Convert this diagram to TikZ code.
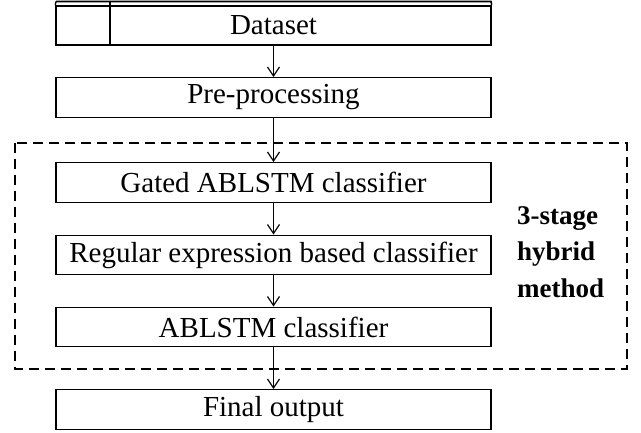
\documentclass[tikz,border=0pt]{standalone}
\usepackage{fontspec}
\setmainfont{Liberation Serif}
\usetikzlibrary{arrows.meta}
\tikzset{
  procbox/.style={draw=black, line width=1.4pt, minimum width=435pt, minimum height=39.5pt, inner sep=0pt, font=\fontsize{29}{34}\selectfont},
  flowarrow/.style={draw=black, line width=1.2pt, -{Straight Barb[length=9pt,width=12pt,line width=1.2pt]}},
  groupbox/.style={draw=black, line width=1.4pt, dash pattern=on 10pt off 6pt}
}
\begin{document}
\begin{tikzpicture}[x=1pt,y=-1pt]
\useasboundingbox (0,0) rectangle (641,432);
% dashed group
\draw[groupbox] (15,143) rectangle (627,369);
% dataset box with header rows
\node[procbox] (ds) at (273.5,25.25) {\raisebox{-2pt}{Dataset}};
\coordinate (dstl) at (56,1.5);
\coordinate (dstr) at (491,1.5);
\coordinate (dsml) at (56,5.8);
\coordinate (dsmr) at (491,5.8);
\coordinate (dsvt) at (110,1.5);
\coordinate (dsvb) at (110,45);
\draw[line width=1.6pt] (dstl) -- (dstr) -- (ds.north east);
\draw[line width=1.4pt] (dstl) -- (ds.north west);
\draw[line width=1.4pt] (dsml) -- (dsmr);
\draw[line width=1.4pt] (dsvt) -- (dsvb);
\node[procbox] (pre) at (273.5,97.5) {Pre-processing};
\node[procbox] (gated) at (273.5,182.5) {Gated ABLSTM classifier};
\node[procbox] (reg) at (273.5,255) {Regular expression based classifier};
\node[procbox] (abl) at (273.5,327) {ABLSTM classifier};
\node[procbox] (fin) at (273.5,409.5) {Final output};
\node[anchor=north west, align=left, inner sep=0pt, font=\fontsize{27}{36.5}\selectfont\bfseries] (lbl) at (517,206) {3-stage\\hybrid\\method};
\draw[flowarrow] (ds) -- (pre);
\draw[flowarrow] (pre) -- (gated);
\draw[flowarrow] (gated) -- (reg);
\draw[flowarrow] (reg) -- (abl);
\draw[flowarrow] (abl) -- (fin);
\end{tikzpicture}
\end{document}
